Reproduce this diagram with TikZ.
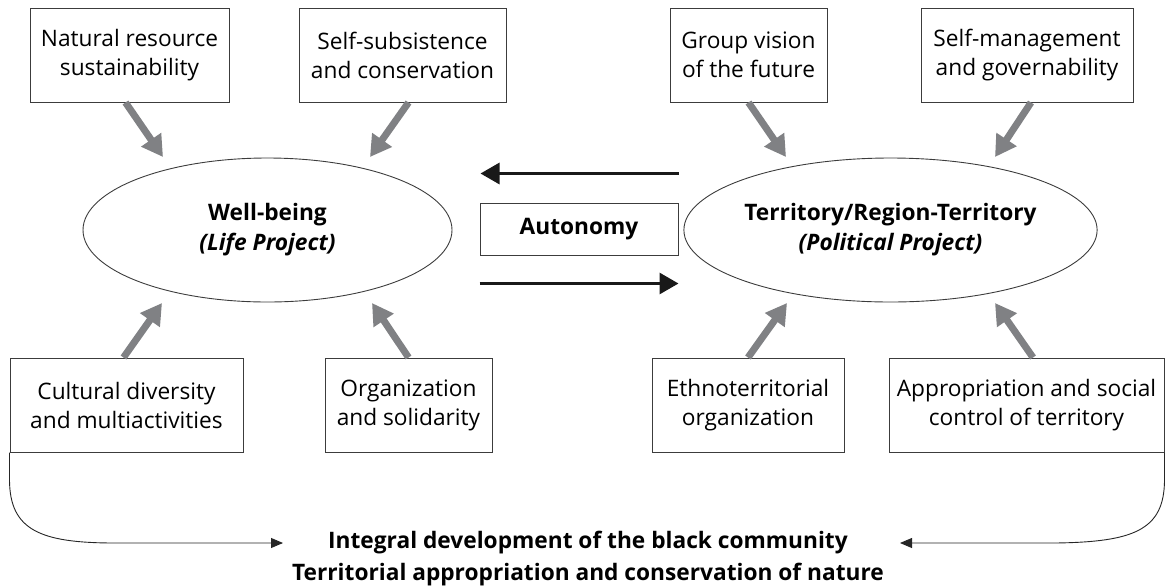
\documentclass[tikz,border=0pt]{standalone}
\usepackage{fontspec}
\setmainfont{Open Sans}
\usetikzlibrary{arrows.meta,calc,shapes.geometric}
\definecolor{arrgray}{RGB}{128,129,132}
\definecolor{linegray}{RGB}{60,60,60}
\begin{document}
\begin{tikzpicture}[x=1pt,y=-1pt,
  box/.style={draw=linegray, line width=1pt, minimum height=94pt, align=center, inner sep=0pt,
              font=\fontsize{22.7}{29}\selectfont},
  oval/.style={draw=linegray, line width=0.9pt, ellipse, minimum width=369pt, minimum height=144pt,
              inner sep=0pt, align=center, font=\fontsize{22.7}{30}\selectfont},
  grayarrow/.style={draw=arrgray, line width=7pt, -{Triangle[length=21pt,width=23pt]}, fill=arrgray},
  blackarrow/.style={draw=black!90, line width=3pt, -{Triangle[length=19pt,width=21pt]}},
  thinarrow/.style={draw=black!85, line width=0.9pt, -{Triangle[length=12pt,width=10pt]}},
  goaltext/.style={align=center, inner sep=0pt, font=\fontsize{22.7}{32}\selectfont\bfseries}
]
\useasboundingbox (0,0) rectangle (1166,587);

% top boxes
\node[box, minimum width=199pt] (nat) at (129.5,55) {Natural resource\\sustainability};
\node[box, minimum width=207pt] (subs) at (402.5,55) {Self-subsistence\\and conservation};
\node[box, minimum width=157pt] (vis) at (748.5,55) {Group vision\\of the future};
\node[box, minimum width=212pt] (selfm) at (1027,55) {Self-management\\and governability};

% bottom boxes
\node[box, minimum width=233pt] (cult) at (126.5,405) {Cultural diversity\\and multiactivities};
\node[box, minimum width=167pt] (org) at (408.5,405) {Organization\\and solidarity};
\node[box, minimum width=192pt] (eth) at (748,405) {Ethnoterritorial\\organization};
\node[box, minimum width=275pt] (appr) at (1026.5,405) {Appropriation and social\\control of territory};

% ellipses
\node[oval] (well) at (267.5,230) {\textbf{Well-being}\\\textbf{\textit{(Life Project)}}};
\node[oval] (terr) at (890.5,230) {\textbf{Territory/Region-Territory}\\\textbf{\textit{(Political Project)}}};

% autonomy
\node[draw=linegray, line width=1pt, minimum width=198pt, minimum height=52pt, inner sep=0pt,
      font=\fontsize{22.7}{26}\selectfont\bfseries] (auto) at (579,229) {Autonomy};

% arrow tips
\coordinate (tnat) at (163,157);
\coordinate (tsubs) at (370,157);
\coordinate (tvis) at (786,157);
\coordinate (tselfm) at (995,157);
\coordinate (tcult) at (162,303);
\coordinate (torg) at (372,303);
\coordinate (teth) at (787,303);
\coordinate (tappr) at (995,303);

\draw[grayarrow] ($(nat.south)+(-4,0)$) -- (tnat);
\draw[grayarrow] ($(subs.south)+(6,0)$) -- (tsubs);
\draw[grayarrow] (vis.south) -- (tvis);
\draw[grayarrow] ($(selfm.south)+(4,0)$) -- (tselfm);
\draw[grayarrow] ($(cult.north)+(-3,0)$) -- (tcult);
\draw[grayarrow] (org.north) -- (torg);
\draw[grayarrow] (eth.north) -- (teth);
\draw[grayarrow] ($(appr.north)+(6.5,0)$) -- (tappr);

% black arrows
\draw[blackarrow] ($(auto.north east)+(0,-29)$) -- ($(auto.north west)+(1,-29)$);
\draw[blackarrow] ($(auto.south west)+(0,28)$) -- ($(auto.south east)+(0,28)$);

% goal text
\node[goaltext] (goal) at (588,559) {Integral development of the black community\\Territorial appropriation and conservation of nature};
\coordinate (gl) at (283,543);
\coordinate (gr) at (900,543);

\draw[thinarrow] (cult.south west) -- ++(0,28) .. controls (10,530) and (40,543) .. (115,543) -- (gl);
\draw[thinarrow] (appr.south east) -- ++(0,28) .. controls (1164,530) and (1134,542) .. (1055,543) -- (gr);
\end{tikzpicture}
\end{document}
